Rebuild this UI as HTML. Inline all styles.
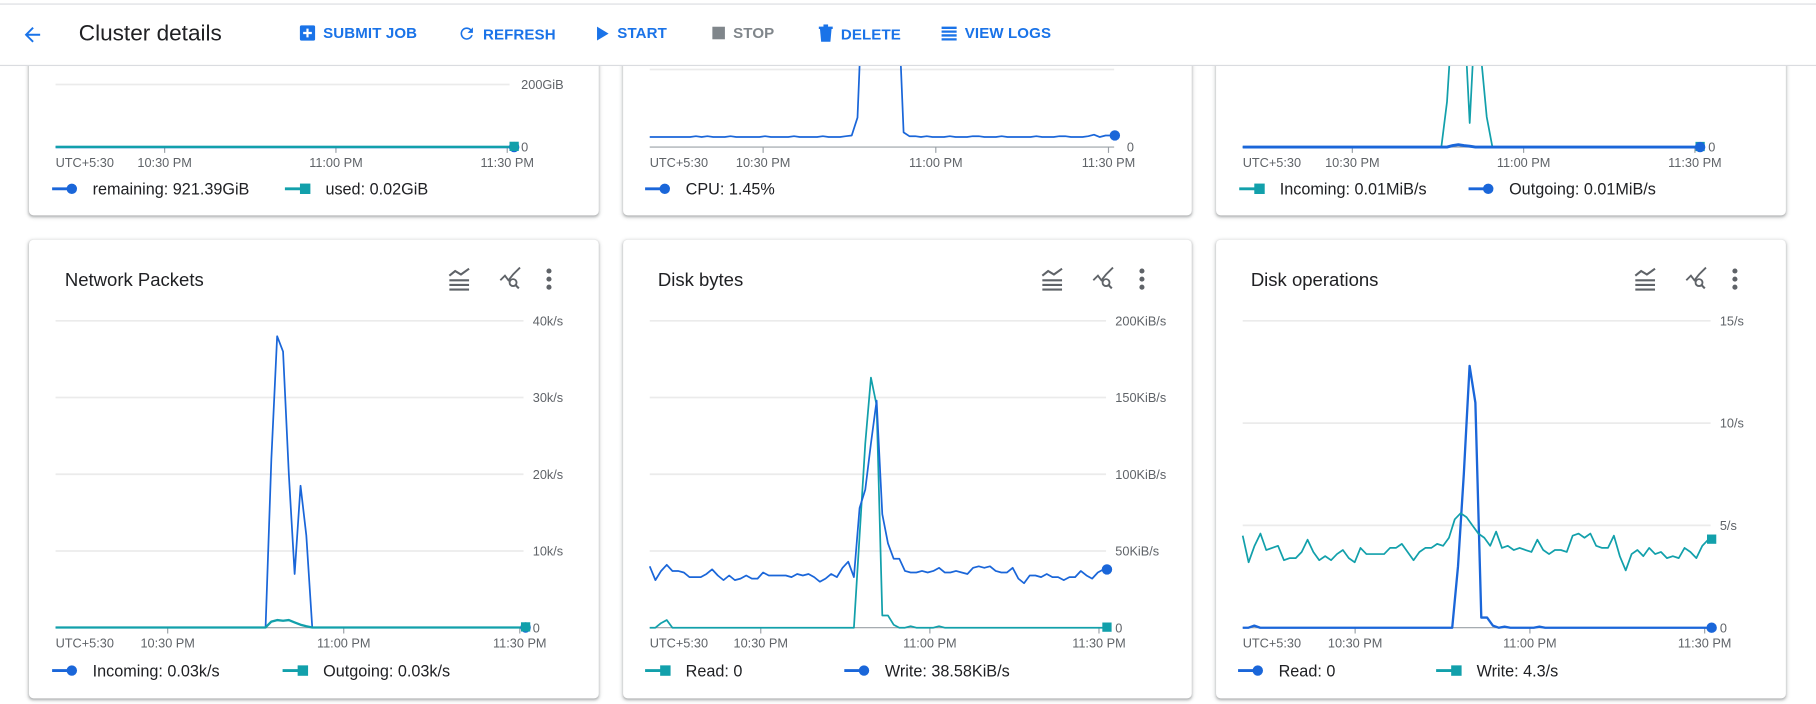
<!DOCTYPE html>
<html><head><meta charset="utf-8">
<style>
html,body{margin:0;padding:0;background:#fff;overflow:hidden;width:1816px;height:704px;}
#stage{position:absolute;left:0;top:0;width:1568px;height:608px;transform:scale(1.15816);transform-origin:0 0;font-family:"Liberation Sans",Arial,sans-serif;}
.card{position:absolute;background:#fff;border-radius:4px;box-shadow:0 1px 2px rgba(60,64,67,.3),0 1px 3px 1px rgba(60,64,67,.15);}
#header{position:absolute;left:0;top:0;width:1568px;height:56px;background:#fff;border-bottom:1px solid #dadce0;z-index:5;}
#topline{position:absolute;left:0;top:3px;width:1568px;height:1px;background:#dadce0;}
.btn{position:absolute;top:21px;font-size:13px;font-weight:bold;color:#1a73e8;letter-spacing:.1px;display:flex;align-items:center;gap:6px;}
.btn.dis{color:#80868b;}
#charts{position:absolute;left:0;top:0;z-index:2;}
#charts text{font-family:"Liberation Sans",Arial,sans-serif;}
</style></head><body>
<div id="stage">
<div id="header">
  <div id="topline"></div>
  <svg style="position:absolute;left:18px;top:20px" width="20" height="20" viewBox="0 0 24 24"><path d="M20 11H7.8l5.6-5.6L12 4l-8 8 8 8 1.4-1.4L7.8 13H20z" fill="#1a73e8"/></svg>
  <div style="position:absolute;left:68px;top:18px;font-size:19.5px;color:#202124">Cluster details</div>
  <div class="btn" style="left:258px"><svg width="15" height="15" viewBox="0 0 16 16"><rect x="1" y="1" width="14" height="14" rx="1.5" fill="#1a73e8"/><path d="M8 4v8M4 8h8" stroke="#fff" stroke-width="2"/></svg>SUBMIT JOB</div>
  <div class="btn" style="left:395px"><svg width="16" height="16" viewBox="0 0 24 24"><path d="M17.65 6.35A7.96 7.96 0 0 0 12 4a8 8 0 1 0 7.73 10h-2.08A6 6 0 1 1 12 6c1.66 0 3.14.69 4.22 1.78L13 11h7V4z" fill="#1a73e8"/></svg>REFRESH</div>
  <div class="btn" style="left:514px"><svg width="13" height="14" viewBox="0 0 12 14"><path d="M1 1l10 6-10 6z" fill="#1a73e8"/></svg>START</div>
  <div class="btn dis" style="left:614px"><svg width="13" height="13" viewBox="0 0 12 12"><rect x="1" y="1" width="10" height="10" fill="#80868b"/></svg>STOP</div>
  <div class="btn" style="left:706px"><svg width="14" height="16" viewBox="0 0 14 16"><path d="M1 3h12M5 1h4" stroke="#1a73e8" stroke-width="2"/><path d="M2 4h10l-1 11H3z" fill="#1a73e8"/></svg>DELETE</div>
  <div class="btn" style="left:812px"><svg width="15" height="14" viewBox="0 0 15 14"><path d="M1 2h13M1 5.3h13M1 8.6h13M1 12h13" stroke="#1a73e8" stroke-width="2"/></svg>VIEW LOGS</div>
</div>

<div class="card" style="left:25px;top:-120px;width:492px;height:306px"></div>
<div class="card" style="left:538px;top:-120px;width:491px;height:306px"></div>
<div class="card" style="left:1050px;top:-120px;width:492px;height:306px"></div>
<div class="card" style="left:25px;top:207px;width:492px;height:396px"></div>
<div class="card" style="left:538px;top:207px;width:491px;height:396px"></div>
<div class="card" style="left:1050px;top:207px;width:492px;height:396px"></div>

<svg id="charts" width="1568" height="608"></svg>
</div>

<script>
// ---------- data ----------
const xTickMinutes = [30, 60, 90];
const xTickLabels = ["10:30 PM", "11:00 PM", "11:30 PM"];

const diskRemaining = [0,0,0,0,0,0,0,0,0,0,0,0,0,0,0,0,0,0,0,0,0,0,0,0,0,0,0,0,0,0,0,0,0,0,0,0,0,0,0,0,0,0,0,0,0,0,0,0,0,0,0,0,0,0,0,0,0,0,0,0,0,0,0,0,0,0,0,0,0,0,0,0,0,0,0,0,0,0,0,0,0];
const diskUsed = [0.5,0.5,0.5,0.5,0.5,0.5,0.5,0.3,0.3,0.3,0.3,0.3,0.3,0.3,0.3,0.3,0.3,0.3,0.3,0.3,0.3,0.3,0.3,0.3,0.3,0.3,0.3,0.3,0.3,0.3,0.3,0.3,0.3,0.3,0.3,0.3,0.3,0.3,0.3,0.3,0.3,0.3,0.3,0.3,0.3,0.3,0.3,0.3,0.3,0.3,0.3,0.3,0.3,0.3,0.3,0.3,0.3,0.3,0.3,0.3,0.3,0.3,0.3,0.3,0.3,0.3,0.3,0.3,0.3,0.3,0.3,0.3,0.3,0.5,0.5,0.5,0.5,0.5,0.5,0.5,0.5];
const diskTicks = [0, 200];
const diskTickLabels = ["0", "200GiB"];

const cpuValues = [1.3,1.3,1.3,1.3,1.3,1.3,1.3,1.3,1.4,1.3,1.4,1.3,1.3,1.3,1.4,1.3,1.3,1.3,1.3,1.3,1.4,1.3,1.3,1.3,1.3,1.4,1.3,1.3,1.3,1.3,1.4,1.3,1.3,1.3,1.4,1.5,3.8,22,30,30,30,30,30,20,1.9,1.4,1.4,1.3,1.4,1.3,1.3,1.3,1.4,1.3,1.3,1.3,1.4,1.4,1.3,1.3,1.3,1.4,1.3,1.3,1.3,1.3,1.3,1.4,1.3,1.3,1.3,1.4,1.4,1.3,1.3,1.3,1.4,1.6,1.3,1.5,1.5];
const cpuTicks = [0, 10];
const cpuTickLabels = ["0", "10%"];

const netBytesIn = [0,0,0,0,0,0,0,0,0,0,0,0,0,0,0,0,0,0,0,0,0,0,0,0,0,0,0,0,0,0,0,0,0,0,0,0,1.5,4.5,4.5,4.5,0.8,4.5,3,1,0,0,0,0,0,0,0,0,0,0,0,0,0,0,0,0,0,0,0,0,0,0,0,0,0,0,0,0,0,0,0,0,0,0,0,0,0];
const netBytesOut = [0,0,0,0,0,0,0,0,0,0,0,0,0,0,0,0,0,0,0,0,0,0,0,0,0,0,0,0,0,0,0,0,0,0,0,0,0,0.05,0.08,0.05,0.03,0,0,0,0,0,0,0,0,0,0,0,0,0,0,0,0,0,0,0,0,0,0,0,0,0,0,0,0,0,0,0,0,0,0,0,0,0,0,0,0];

const packetsIn = [30,30,30,30,30,30,30,30,30,30,30,30,30,30,30,30,30,30,30,30,30,30,30,30,30,30,30,30,30,30,30,30,30,30,30,30,30,22000,38000,36000,20000,7000,18500,12000,30,30,30,30,30,30,30,30,30,30,30,30,30,30,30,30,30,30,30,30,30,30,30,30,30,30,30,30,30,30,30,30,30,30,30,30,30];
const packetsOut = [30,30,30,30,30,30,30,30,30,30,30,30,30,30,30,30,30,30,30,30,30,30,30,30,30,30,30,30,30,30,30,30,30,30,30,30,30,800,1000,900,1000,700,400,200,30,30,30,30,30,30,30,30,30,30,30,30,30,30,30,30,30,30,30,30,30,30,30,30,30,30,30,30,30,30,30,30,30,30,30,30,30];
const packetTicks = [0, 10000, 20000, 30000, 40000];
const packetTickLabels = ["0", "10k/s", "20k/s", "30k/s", "40k/s"];

const diskRead = [0,0,3,5,0,0,0,0,0,0,0,0,0,0,0,0,0,0,0,0,0,0,0,0,0,0,0,0,0,0,0,0,0,0,0,0,0,60,120,163,145,8,8,2,0,0,1,0,0,0,0,1,0,0,0,0,0,0,0,0,0,0,0,0,0,0,0,0,0,0,0,0,0,0,0,0,0,0,0,0,0];
const diskWrite = [40,31,37,41,37,37,36,33,33,33,35,38,34,31,34,31,32,34,32,32,36,34,34,34,34,33,35,34,35,33,30,32,35,33,39,43,33,78,90,120,148,74,55,45,45,37,36,36,37,36,37,39,36,36,37,36,35,39,40,39,40,37,36,36,39,32,29,34,34,33,35,33,33,31,33,33,37,34,32,36,38];
const diskByteTicks = [0, 50, 100, 150, 200];
const diskByteTickLabels = ["0", "50KiB/s", "100KiB/s", "150KiB/s", "200KiB/s"];

const opsRead = [0,0,0.1,0,0,0,0,0,0,0,0,0,0,0,0,0,0,0,0,0,0,0,0,0,0,0,0,0,0,0,0,0,0,0,0,0,0,3,7.5,12.8,11,0.5,0.5,0.1,0,0.05,0,0,0,0,0,0.05,0,0,0,0,0,0,0,0,0,0,0,0,0,0,0,0,0,0,0,0,0,0,0,0,0,0,0,0,0];
const opsWrite = [4.5,3.2,4.0,4.6,3.8,3.9,4.0,3.3,3.4,3.4,3.7,4.3,3.7,3.3,3.5,3.3,3.6,3.8,3.4,3.2,3.9,3.6,3.6,3.6,3.6,3.9,3.9,4.1,3.7,3.3,3.7,3.9,3.9,4.1,4.0,4.4,5.3,5.6,5.4,5.0,4.6,4.4,4.0,4.7,3.9,4.0,3.8,3.9,3.8,3.7,4.3,3.8,3.6,3.8,3.8,3.7,4.5,4.6,4.4,4.6,4.0,3.9,3.9,4.5,3.5,2.8,3.6,3.8,3.5,3.9,3.6,3.7,3.4,3.5,3.4,3.9,3.7,3.4,4.0,4.3];
const opsTicks = [0, 5, 10, 15];
const opsTickLabels = ["0", "5/s", "10/s", "15/s"];

// ---------- rendering ----------
const NS = "http://www.w3.org/2000/svg";
const root = document.getElementById("charts");
const BLUE = "#1a66d9", TEAL = "#12a0ab";
function mk(tag, attrs, parent) {
  const e = document.createElementNS(NS, tag);
  for (const k in attrs) e.setAttribute(k, attrs[k]);
  (parent || root).appendChild(e);
  return e;
}
function chart(cfg) {
  const g = mk("g", {});
  
  
  const clipId = cfg.name + "-clip";
  const cp = mk("clipPath", {id: clipId}, g);
  mk("rect", {x: cfg.card[0], y: cfg.clipTop, width: cfg.card[1] - cfg.card[0], height: cfg.y0 - cfg.clipTop + 2}, cp);
  const xs = m => cfg.px0 + (m - cfg.t0) * cfg.ppm;
  const ys = v => cfg.y0 - (v - cfg.ticks[0]) / (cfg.ticks[cfg.ticks.length - 1] - cfg.ticks[0]) * cfg.h;
  cfg.ticks.forEach((t, i) => {
    const y = ys(t);
    if (i > 0) {
      const gl = mk("line", {x1: cfg.px0, x2: cfg.gx1, y1: y, y2: y, stroke: "#ebebeb", "stroke-width": 1.5}, g);
      
      
    }
    if (y > cfg.clipTop + 4) {
      const tl = mk("text", {x: cfg.labelX, y: y + 4, "font-size": 11, fill: "#5f6368"}, g);
      tl.textContent = cfg.tickLabels[i];
      
      
    }
  });
  const ax = mk("line", {x1: cfg.px0, x2: cfg.gx1, y1: cfg.y0, y2: cfg.y0, stroke: "#9aa0a6", "stroke-width": 1}, g);
  
  
  const tz = mk("text", {x: cfg.px0, y: cfg.y0 + 17, "font-size": 11, fill: "#5f6368"}, g);
  tz.textContent = "UTC+5:30";
  
  
  xTickMinutes.forEach((m, i) => {
    const x = xs(m);
    mk("line", {x1: x, x2: x, y1: cfg.y0, y2: cfg.y0 + 5, stroke: "#9aa0a6"}, g);
    const t = mk("text", {x: x, y: cfg.y0 + 17, "font-size": 11, fill: "#5f6368", "text-anchor": "middle"}, g);
    t.textContent = xTickLabels[i];
    
    
  });
  const sg = mk("g", {"clip-path": "url(#" + clipId + ")"}, g);
  cfg.series.forEach(s => {
    const n = s.data.length;
    const pts = s.data.map((v, i) => [xs(cfg.t0 + (cfg.t1 - cfg.t0) * i / (n - 1)), ys(Math.max(v, 0))]);
    const p = mk("polyline", {points: pts.map(p => p[0].toFixed(1) + "," + p[1].toFixed(1)).join(" "), fill: "none", stroke: s.color, "stroke-width": s.w || 1.5, "stroke-linejoin": "round"}, sg);
    
    
    const last = pts[n - 1];
    let mkr;
    if (s.marker === "dot") mkr = mk("circle", {cx: last[0] + 3, cy: last[1], r: 4.5, fill: s.color}, g);
    else mkr = mk("rect", {x: last[0] - 1, y: last[1] - 4.5, width: 8, height: 8, fill: s.color}, g);
    
    
  });
  cfg.series.forEach(s => {
    const lg = mk("g", {}, g);
    
    
    const lx = s.legendX, ly = cfg.legendY;
    mk("line", {x1: lx, x2: lx + 14, y1: ly, y2: ly, stroke: s.color, "stroke-width": 2.5}, lg);
    if (s.marker === "dot") mk("circle", {cx: lx + 17, cy: ly, r: 4.5, fill: s.color}, lg);
    else mk("rect", {x: lx + 13, y: ly - 4.5, width: 9, height: 9, fill: s.color}, lg);
    const t = mk("text", {x: lx + 35, y: ly + 5, "font-size": 14, fill: "#202124"}, lg);
    t.textContent = s.label;
  });
}
function header(x, y, title, name) {
  const t = mk("text", {x: x, y: y + 6, "font-size": 16, fill: "#202124"});
  t.textContent = title;
  
  
  const base = x + 332;
  const ic1 = mk("g", {transform: "translate(" + base + "," + (y - 9) + ")"});
  
  
  mk("path", {d: "M0 6l5-4 5 3 7-5", fill: "none", stroke: "#5f6368", "stroke-width": 1.8}, ic1);
  mk("path", {d: "M0 10h17M0 14h17M0 18h17", stroke: "#5f6368", "stroke-width": 1.8}, ic1);
  const ic2 = mk("g", {transform: "translate(" + (base + 44) + "," + (y - 9) + ")"});
  
  
  mk("path", {d: "M0 10l4-4 3 4 4-5 6-6", fill: "none", stroke: "#5f6368", "stroke-width": 1.6}, ic2);
  mk("circle", {cx: 11, cy: 12, r: 3, fill: "none", stroke: "#5f6368", "stroke-width": 1.6}, ic2);
  mk("path", {d: "M13 14l3 3", stroke: "#5f6368", "stroke-width": 1.8}, ic2);
  const ic3 = mk("g", {});
  
  
  [-7, 0, 7].forEach(d => mk("circle", {cx: base + 86, cy: y + d, r: 2.2, fill: "#5f6368"}, ic3));
}

chart({name: "disk-usage-chart", card: [25, 517], clipTop: 57, px0: 48, gx1: 440, t0: 10.9, t1: 90.6, ppm: 4.93, y0: 127, h: 54, labelX: 450, ticks: diskTicks, tickLabels: diskTickLabels, legendY: 163,
  series: [{name: "remaining", data: diskRemaining, color: BLUE, marker: "dot", label: "remaining: 921.39GiB", legendX: 45, w: 2},
           {name: "used", data: diskUsed, color: TEAL, marker: "sq", label: "used: 0.02GiB", legendX: 246, w: 2}]});
chart({name: "cpu-chart", card: [538, 1029], clipTop: 57, px0: 561, gx1: 962, t0: 10.3, t1: 90.5, ppm: 4.97, y0: 127, h: 67, labelX: 973, ticks: cpuTicks, tickLabels: cpuTickLabels, legendY: 163,
  series: [{name: "cpu", data: cpuValues, color: BLUE, marker: "dot", label: "CPU: 1.45%", legendX: 557}]});
chart({name: "network-bytes-chart", card: [1050, 1542], clipTop: 57, px0: 1073, gx1: 1465, t0: 10.8, t1: 90.3, ppm: 4.93, y0: 127, h: 130, labelX: 1475, ticks: [0, 5], tickLabels: ["0", "5MiB/s"], legendY: 163,
  series: [{name: "incoming", data: netBytesIn, color: TEAL, marker: "sq", label: "Incoming: 0.01MiB/s", legendX: 1070},
           {name: "outgoing", data: netBytesOut, color: BLUE, marker: "dot", label: "Outgoing: 0.01MiB/s", legendX: 1268, w: 2.5}]});

header(56, 241, "Network Packets", "network-packets");
header(568, 241, "Disk bytes", "disk-bytes");
header(1080, 241, "Disk operations", "disk-operations");
chart({name: "network-packets-chart", card: [25, 517], clipTop: 260, px0: 48, gx1: 452, t0: 10.9, t1: 90.4, ppm: 5.067, y0: 542, h: 265, labelX: 460, ticks: packetTicks, tickLabels: packetTickLabels, legendY: 579,
  series: [{name: "incoming", data: packetsIn, color: BLUE, marker: "dot", label: "Incoming: 0.03k/s", legendX: 45},
           {name: "outgoing", data: packetsOut, color: TEAL, marker: "sq", label: "Outgoing: 0.03k/s", legendX: 244, w: 2}]});
chart({name: "disk-bytes-chart", card: [538, 1029], clipTop: 260, px0: 561, gx1: 955, t0: 10.3, t1: 90.8, ppm: 4.867, y0: 542, h: 265, labelX: 963, ticks: diskByteTicks, tickLabels: diskByteTickLabels, legendY: 579,
  series: [{name: "read", data: diskRead, color: TEAL, marker: "sq", label: "Read: 0", legendX: 557},
           {name: "write", data: diskWrite, color: BLUE, marker: "dot", label: "Write: 38.58KiB/s", legendX: 729}]});
chart({name: "disk-operations-chart", card: [1050, 1542], clipTop: 260, px0: 1073, gx1: 1477, t0: 10.7, t1: 90.6, ppm: 5.03, y0: 542, h: 265, labelX: 1485, ticks: opsTicks, tickLabels: opsTickLabels, legendY: 579,
  series: [{name: "read", data: opsRead, color: BLUE, marker: "dot", label: "Read: 0", legendX: 1069, w: 2},
           {name: "write", data: opsWrite, color: TEAL, marker: "sq", label: "Write: 4.3/s", legendX: 1240}]});
</script>
</body></html>
